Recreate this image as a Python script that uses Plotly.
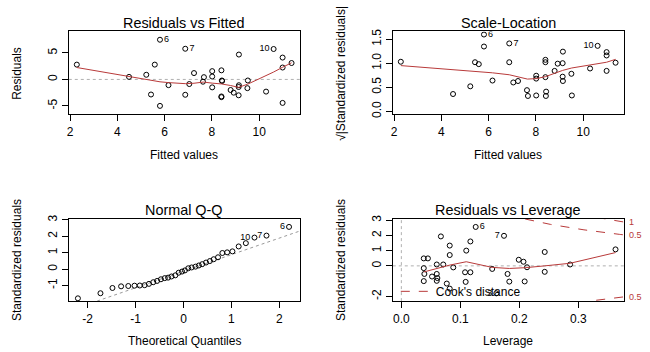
import plotly.graph_objects as go

W, H = 650, 352
FONT = "Liberation Sans, Arial, sans-serif"

# ---------------- data ----------------
fitted = [2.28, 4.49, 5.22, 5.42, 5.58, 5.80, 5.80, 6.16, 6.87, 6.87, 7.04, 7.24,
          7.62, 7.66, 8.01, 8.01, 8.01, 8.40, 8.42, 8.43, 8.40, 8.40, 8.79, 8.92,
          9.14, 9.14, 9.13, 9.13, 9.52, 9.50, 10.29, 10.61, 10.99, 10.99, 10.99, 11.37]
residuals = [2.8, 0.48, 0.88, -2.85, 2.8, 7.5, -5.0, -1.08, 5.8, -2.9, -0.87, 1.2,
             -0.43, 0.43, 1.57, 0.55, -1.5, 1.72, -0.2, -0.3, -3.22, -3.35, -2.0, -2.5,
             4.7, -1.1, -1.43, -3.0, -0.2, -1.65, -2.3, 5.75, 4.13, 2.25, -4.44, 3.1]
sqrt_abs_std_resid = [1.03, 0.36, 0.52, 1.02, 0.98, 1.595, 1.346, 0.64, 1.41, 1.02, 0.60, 0.63,
                      0.44, 0.32, 0.74, 0.33, 0.68, 0.71, 0.32, 0.41, 1.02, 1.07, 0.84, 0.99,
                      1.24, 0.63, 0.72, 1.0, 0.33, 0.78, 0.89, 1.36, 1.16, 0.84, 1.23, 1.01]
obs_labels = ["", "", "", "", "", "6", "", "", "7", "", "", "",
              "", "", "", "", "", "", "", "", "", "", "", "",
              "", "", "", "", "", "", "", "10", "", "", "", ""]

rf_smooth_x = [2.28, 4.49, 5.22, 5.58, 5.80, 6.16, 6.87, 7.24, 7.64, 8.01, 8.40, 8.79, 9.13, 9.51, 10.29, 10.61, 10.99, 11.37]
rf_smooth_y = [2.25, 0.5, 0.0, -0.35, -0.45, -0.6, -0.8, -0.72, -0.5, -0.7, -0.85, -1.15, -1.5, -0.9, 0.7, 1.4, 2.3, 3.15]

sl_smooth_x = [2.28, 4.49, 5.58, 6.16, 6.87, 7.24, 7.64, 8.01, 8.40, 8.79, 9.13, 9.51, 10.29, 10.99, 11.37]
sl_smooth_y = [0.95, 0.87, 0.82, 0.80, 0.76, 0.72, 0.67, 0.68, 0.72, 0.79, 0.85, 0.90, 0.97, 1.02, 1.08]

theoretical_q = [-2.20, -1.73, -1.48, -1.30, -1.15, -1.02, -0.91, -0.81, -0.72, -0.63, -0.55, -0.47,
                 -0.39, -0.32, -0.25, -0.17, -0.10, -0.03, 0.03, 0.10, 0.17, 0.25, 0.32, 0.39,
                 0.47, 0.55, 0.63, 0.72, 0.81, 0.91, 1.02, 1.15, 1.30, 1.48, 1.73, 2.20]
sample_q = [-1.78, -1.47, -1.15, -1.05, -1.03, -1.01, -1.0, -0.98, -0.9, -0.8, -0.72, -0.62,
            -0.55, -0.52, -0.45, -0.38, -0.22, -0.15, -0.08, 0.05, 0.10, 0.15, 0.22, 0.30,
            0.40, 0.49, 0.60, 0.72, 0.98, 1.02, 1.08, 1.38, 1.58, 1.92, 2.04, 2.57]
qq_labels = [""] * 33 + ["10", "7", "6"]
qq_line_intercept, qq_line_slope = -0.13, 1.01

leverage = [0.038, 0.045, 0.038, 0.039, 0.038, 0.052, 0.060, 0.060, 0.061, 0.060, 0.071, 0.067,
            0.077, 0.082, 0.082, 0.082, 0.088, 0.110, 0.108, 0.117, 0.109, 0.117, 0.126, 0.174,
            0.154, 0.180, 0.183, 0.199, 0.207, 0.213, 0.209, 0.243, 0.243, 0.286, 0.363, 0.161]
std_resid = [0.49, 0.49, -0.15, -0.53, -1.0, -0.70, 0.09, -0.53, -0.80, -0.98, 0.09, 1.93,
             -1.16, 1.33, 0.71, -1.49, -0.10, 1.0, -0.42, -0.42, -1.05, 1.60, 2.55, 1.97,
             -0.20, -0.53, -1.03, 0.40, 0.27, -0.09, -1.02, 0.91, -0.39, 0.09, 1.08, -1.80]
lev_labels = [""] * 22 + ["6", "7"] + [""] * 11 + ["3"]
lev_label_pos = ["middle right"] * 22 + ["middle right", "middle left"] + ["middle right"] * 11 + ["middle left"]

lev_smooth_x = [0.038, 0.060, 0.082, 0.110, 0.154, 0.183, 0.210, 0.243, 0.286, 0.363]
lev_smooth_y = [-0.40, -0.15, 0.05, 0.27, -0.10, -0.17, -0.12, 0.0, 0.17, 0.87]

n_params = 5
cook_levels = [0.5, 1.0]

RED = "#B83A3A"
GRAY = "#b0b0b0"

# ---------------- layout geometry (pixels) ----------------
boxes = {
    1: (67, 299, 27, 112),
    2: (392, 624, 27, 112),
    3: (67, 299, 219, 303),
    4: (392, 624, 219, 303),
}
ranges = {
    1: ([1.94, 11.73], [-6.62, 9.08]),
    2: ([1.94, 11.73], [-0.064, 1.66]),
    3: ([-2.39, 2.43], [-1.95, 3.05]),
    4: ([-0.0145, 0.3775], [-2.31, 3.07]),
}
ticks = {
    1: ([2, 4, 6, 8, 10], [-5, 0, 5]),
    2: ([2, 4, 6, 8, 10], [0.0, 0.5, 1.0, 1.5]),
    3: ([-2, -1, 0, 1, 2], [-1, 0, 1, 2, 3]),
    4: ([0.0, 0.1, 0.2, 0.3], [-2, 0, 1, 2, 3]),
}
ticktext = {
    1: (["2", "4", "6", "8", "10"], ["-5", "0", "5"]),
    2: (["2", "4", "6", "8", "10"], ["0.0", "0.5", "1.0", "1.5"]),
    3: (["-2", "-1", "0", "1", "2"], ["-1", "0", "1", "2", "3"]),
    4: (["0.0", "0.1", "0.2", "0.3"], ["-2", "0", "1", "2", "3"]),
}
titles = {1: "Residuals vs Fitted", 2: "Scale-Location", 3: "Normal Q-Q", 4: "Residuals vs Leverage"}
xtitles = {1: "Fitted values", 2: "Fitted values", 3: "Theoretical Quantiles", 4: "Leverage"}
ytitles = {1: "Residuals", 2: "√|Standardized residuals|", 3: "Standardized residuals", 4: "Standardized residuals"}

fig = go.Figure()
layout = dict(
    width=W, height=H, margin=dict(l=0, r=0, t=0, b=0),
    paper_bgcolor="white", plot_bgcolor="white",
    font=dict(family=FONT, size=12, color="black"),
    showlegend=True,
    legend=dict(x=395 / W, y=1 - 293 / H, xanchor="left", yanchor="middle",
                bgcolor="rgba(0,0,0,0)", font=dict(size=12, family=FONT), itemwidth=30,
                tracegroupgap=0),
)
annotations = []
for k, (x0, x1, y0, y1) in boxes.items():
    sfx = "" if k == 1 else str(k)
    layout["xaxis" + sfx] = dict(
        domain=[x0 / W, x1 / W], anchor="y" + sfx, range=ranges[k][0],
        tickvals=ticks[k][0], ticktext=ticktext[k][0],
        showline=True, mirror=True, linecolor="black", linewidth=1,
        ticks="outside", ticklen=6, tickcolor="black", showgrid=False, zeroline=False,
        tickfont=dict(size=12), fixedrange=True,
    )
    layout["yaxis" + sfx] = dict(
        domain=[1 - y1 / H, 1 - y0 / H], anchor="x" + sfx, range=ranges[k][1],
        tickvals=ticks[k][1], ticktext=ticktext[k][1], tickangle=-90,
        showline=True, mirror=True, linecolor="black", linewidth=1,
        ticks="outside", ticklen=6, tickcolor="black", showgrid=False, zeroline=False,
        tickfont=dict(size=12), fixedrange=True,
    )
    cx = (x0 + x1) / 2 / W
    annotations.append(dict(text=titles[k], x=cx, y=1 - (y0 - 9) / H, xref="paper", yref="paper",
                            xanchor="center", yanchor="middle", showarrow=False,
                            font=dict(size=14.4)))
    annotations.append(dict(text=xtitles[k], x=cx, y=1 - (y1 + 41) / H, xref="paper", yref="paper",
                            xanchor="center", yanchor="middle", showarrow=False,
                            font=dict(size=12)))
    annotations.append(dict(text=ytitles[k], x=(x0 - 52) / W, y=1 - (y0 + y1) / 2 / H,
                            xref="paper", yref="paper", textangle=-90,
                            xanchor="center", yanchor="middle", showarrow=False,
                            font=dict(size=12)))

marker = dict(symbol="circle-open", size=5, color="black", line=dict(width=1, color="black"))

# Panel 1: Residuals vs Fitted
fig.add_trace(go.Scatter(x=[ranges[1][0][0], ranges[1][0][1]], y=[0, 0], mode="lines",
                         line=dict(color=GRAY, width=1, dash="dot"), xaxis="x", yaxis="y",
                         showlegend=False, hoverinfo="skip"))
fig.add_trace(go.Scatter(x=fitted, y=residuals, mode="markers+text", marker=marker,
                         text=obs_labels,
                         textposition=["middle left" if t == "10" else "middle right" for t in obs_labels],
                         textfont=dict(size=9), xaxis="x", yaxis="y", showlegend=False))
fig.add_trace(go.Scatter(x=rf_smooth_x, y=rf_smooth_y, mode="lines", line=dict(color=RED, width=1),
                         xaxis="x", yaxis="y", showlegend=False))

# Panel 2: Scale-Location
fig.add_trace(go.Scatter(x=fitted, y=sqrt_abs_std_resid, mode="markers+text", marker=marker,
                         text=obs_labels,
                         textposition=["middle left" if t == "10" else "middle right" for t in obs_labels],
                         textfont=dict(size=9), xaxis="x2", yaxis="y2", showlegend=False))
fig.add_trace(go.Scatter(x=sl_smooth_x, y=sl_smooth_y, mode="lines", line=dict(color=RED, width=1),
                         xaxis="x2", yaxis="y2", showlegend=False))

# Panel 3: Normal Q-Q
qx = ranges[3][0]
fig.add_trace(go.Scatter(x=qx, y=[qq_line_intercept + qq_line_slope * v for v in qx], mode="lines",
                         line=dict(color="#999999", width=1, dash="dot"), xaxis="x3", yaxis="y3",
                         showlegend=False))
fig.add_trace(go.Scatter(x=theoretical_q, y=sample_q, mode="markers+text", marker=marker,
                         text=qq_labels, textposition="middle left", textfont=dict(size=9),
                         xaxis="x3", yaxis="y3", showlegend=False))

# Panel 4: Residuals vs Leverage
lx = ranges[4][0]
ly = ranges[4][1]
fig.add_trace(go.Scatter(x=lx, y=[0, 0], mode="lines", line=dict(color=GRAY, width=1, dash="dot"),
                         xaxis="x4", yaxis="y4", showlegend=False))
fig.add_trace(go.Scatter(x=[0, 0], y=ly, mode="lines", line=dict(color=GRAY, width=1, dash="dot"),
                         xaxis="x4", yaxis="y4", showlegend=False))
fig.add_trace(go.Scatter(x=leverage, y=std_resid, mode="markers+text", marker=marker,
                         text=lev_labels, textposition=lev_label_pos, textfont=dict(size=9),
                         xaxis="x4", yaxis="y4", showlegend=False))
fig.add_trace(go.Scatter(x=lev_smooth_x, y=lev_smooth_y, mode="lines", line=dict(color=RED, width=1),
                         xaxis="x4", yaxis="y4", showlegend=False))
hgrid = [0.01 + i * (lx[1] - 0.01) / 200 for i in range(201)]
first = True
for lev in cook_levels:
    for sgn in (1, -1):
        fig.add_trace(go.Scatter(
            x=hgrid, y=[sgn * (lev * n_params * (1 - h) / h) ** 0.5 for h in hgrid],
            mode="lines", line=dict(color=RED, width=1, dash="dash"),
            xaxis="x4", yaxis="y4", name="Cook's distance", showlegend=first, hoverinfo="skip"))
        first = False
        yr = sgn * (lev * n_params * (1 - lx[1]) / lx[1]) ** 0.5
        if ly[0] <= yr <= ly[1]:
            annotations.append(dict(text=("1" if lev == 1.0 else "0.5"), x=1.0, y=yr,
                                    xref="x4 domain", yref="y4", xanchor="left", xshift=3,
                                    yanchor="middle", showarrow=False,
                                    font=dict(size=9, color=RED)))

layout["annotations"] = annotations
fig.update_layout(**layout)
fig.write_html("out.html", config={"displayModeBar": False},
               post_script="document.body.style.margin='0';document.body.style.overflow='hidden';")
